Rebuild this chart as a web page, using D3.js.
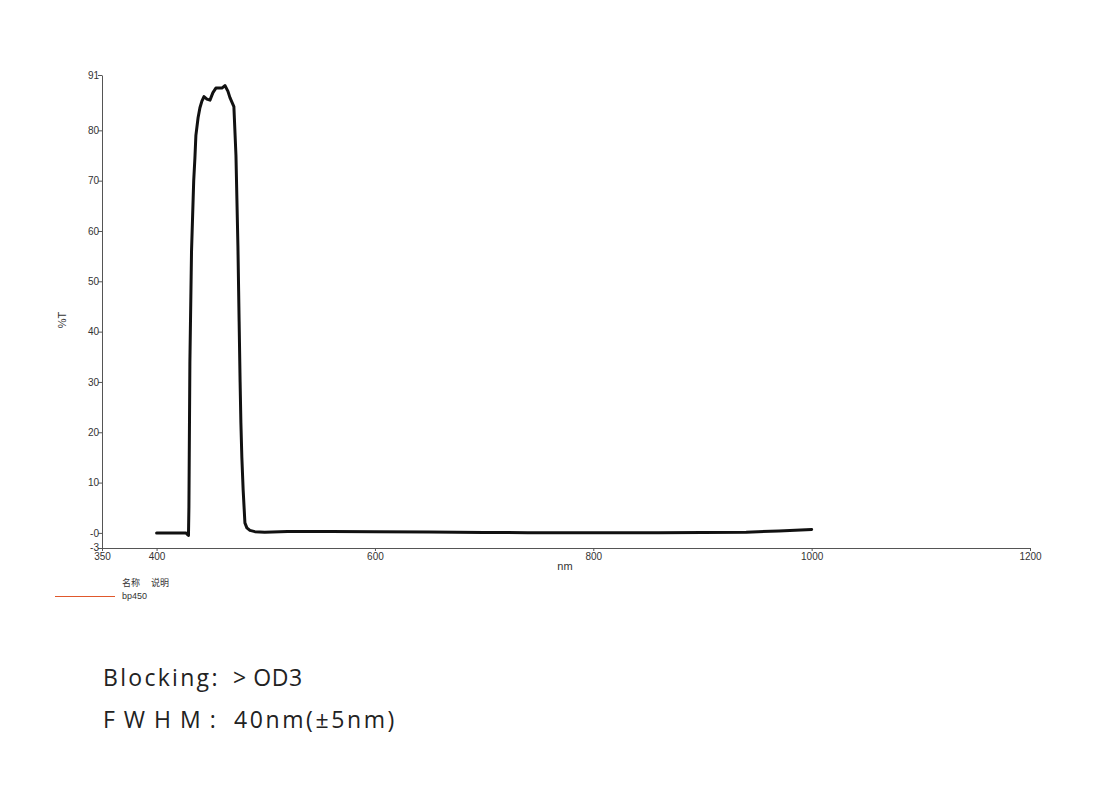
<!DOCTYPE html>
<html>
<head>
<meta charset="utf-8">
<script src="https://cdn.jsdelivr.net/npm/d3@7"></script>
<style>
  body { margin: 0; background: #fff; }
  svg text { font-family: "Liberation Sans", Arial, sans-serif; }
</style>
</head>
<body>
<svg id="canvas" width="1093" height="803"></svg>
<script>
// spectrum
let wavelengths = [400, 415, 427, 428.7, 429.2, 429.6, 430.5, 432, 434, 435.1, 436, 438, 439.7, 441.5, 443.4, 446.1, 448.9, 451.6, 454.3, 457, 459.8, 462.6, 465.3, 467.2, 470.8, 472.7, 474.5, 475.6, 476.5, 477.2, 478.1, 479.3, 480.9, 482.7, 485.5, 490, 499, 520, 560, 600, 650, 700, 740, 800, 860, 900, 940, 970, 1000]
let transmission = [0, 0, 0, -0.4, -0.5, 5, 34, 56, 70, 74.5, 79, 82.5, 84.5, 85.8, 86.7, 86.2, 86.0, 87.5, 88.4, 88.4, 88.4, 88.9, 87.8, 86.5, 84.7, 75, 57, 42, 30, 22, 15, 8.5, 2, 1, 0.5, 0.25, 0.15, 0.3, 0.3, 0.25, 0.2, 0.1, 0.05, 0.05, 0.05, 0.1, 0.15, 0.4, 0.7]

let xTicks = [350, 400, 600, 800, 1000, 1200]
let yTicks = [-3, 0, 10, 20, 30, 40, 50, 60, 70, 80, 91]
let yTickLabels = ['-3', '-0', '10', '20', '30', '40', '50', '60', '70', '80', '91']

let legendHeader = ['名称', '说明']
let seriesName = 'bp450'
let blockingNote = ['Blocking:', '> OD3']
let fwhmNote = ['FWHM:', '40nm(±5nm)']

let canvas = d3.select('#canvas')

let xScale = d3.scaleLinear().domain([350, 1200]).range([102, 1030])
let yScale = d3.scaleLinear().domain([-3, 91]).range([548, 75])

// axes
let xAxis = d3.axisBottom(xScale).tickValues(xTicks).tickSize(3).tickSizeOuter(0)
    .tickFormat(d3.format('d'))
let yAxis = d3.axisLeft(yScale).tickValues(yTicks).tickSize(4).tickSizeOuter(0)
    .tickFormat((d, i) => yTickLabels[i])

let gx = canvas.append('g')
    .attr('transform', 'translate(0,' + yScale(-3) + ')')
    .call(xAxis)
let gy = canvas.append('g')
    .attr('transform', 'translate(' + xScale(350) + ',0)')
    .call(yAxis)

canvas.selectAll('.domain').attr('stroke', '#555')
canvas.selectAll('.tick line').attr('stroke', '#555')
canvas.selectAll('.tick text')
    .attr('fill', '#333')
    .style('font-size', '10px')
    .style('font-family', '"Liberation Sans", Arial, sans-serif')
gx.selectAll('.tick text').attr('dy', '0.6em')
gy.selectAll('.tick text').attr('x', -3)
// -3 sits on the corner, lift it a little off the 350 label
gy.selectAll('.tick text').filter(d => d === -3).attr('dy', '0.2em')

// axis titles
canvas.append('text')
    .attr('x', 565).attr('y', 570)
    .attr('text-anchor', 'middle')
    .attr('font-size', 11).attr('fill', '#333')
    .text('nm')
canvas.append('text')
    .attr('transform', 'translate(66,320) rotate(-90)')
    .attr('text-anchor', 'middle')
    .attr('font-size', 11).attr('fill', '#333')
    .text('%T')

// the curve
let points = wavelengths.map((w, i) => [w, transmission[i]])
let line = d3.line()
    .x(d => xScale(d[0]))
    .y(d => yScale(d[1]))

canvas.append('path')
    .datum(points)
    .attr('d', line)
    .attr('fill', 'none')
    .attr('stroke', '#111')
    .attr('stroke-width', 3)
    .attr('stroke-linejoin', 'round')
    .attr('stroke-linecap', 'round')

// legend
canvas.selectAll('.lh')
    .data(legendHeader)
    .enter()
    .append('text')
    .attr('x', (d, i) => 122 + i * 29)
    .attr('y', 586)
    .attr('font-size', 9)
    .attr('fill', '#333')
    .style('font-family', '"Noto Sans CJK SC", sans-serif')
    .text(d => d)
canvas.append('line')
    .attr('x1', 55).attr('x2', 115)
    .attr('y1', 596.5).attr('y2', 596.5)
    .attr('stroke', '#e0582c')
    .attr('stroke-width', 1)
canvas.append('text')
    .attr('x', 122).attr('y', 599)
    .attr('font-size', 9)
    .attr('fill', '#333')
    .text(seriesName)

// notes under the chart
let noteFont = '"Open Sans", "Noto Sans", sans-serif'
let bl = canvas.append('text')
    .attr('y', 686)
    .attr('font-size', 23)
    .attr('fill', '#222')
    .style('font-family', noteFont)
bl.append('tspan').attr('x', 103).attr('letter-spacing', 2.3).text(blockingNote[0])
bl.append('tspan').attr('x', 233).attr('letter-spacing', 0.6).text(blockingNote[1])

let fw = canvas.append('text')
    .attr('y', 728)
    .attr('font-size', 23)
    .attr('fill', '#222')
    .style('font-family', noteFont)
fw.append('tspan').attr('x', 103).attr('letter-spacing', 9).text(fwhmNote[0])
fw.append('tspan').attr('x', 234).attr('letter-spacing', 2.6).text(fwhmNote[1])
</script>
</body>
</html>
